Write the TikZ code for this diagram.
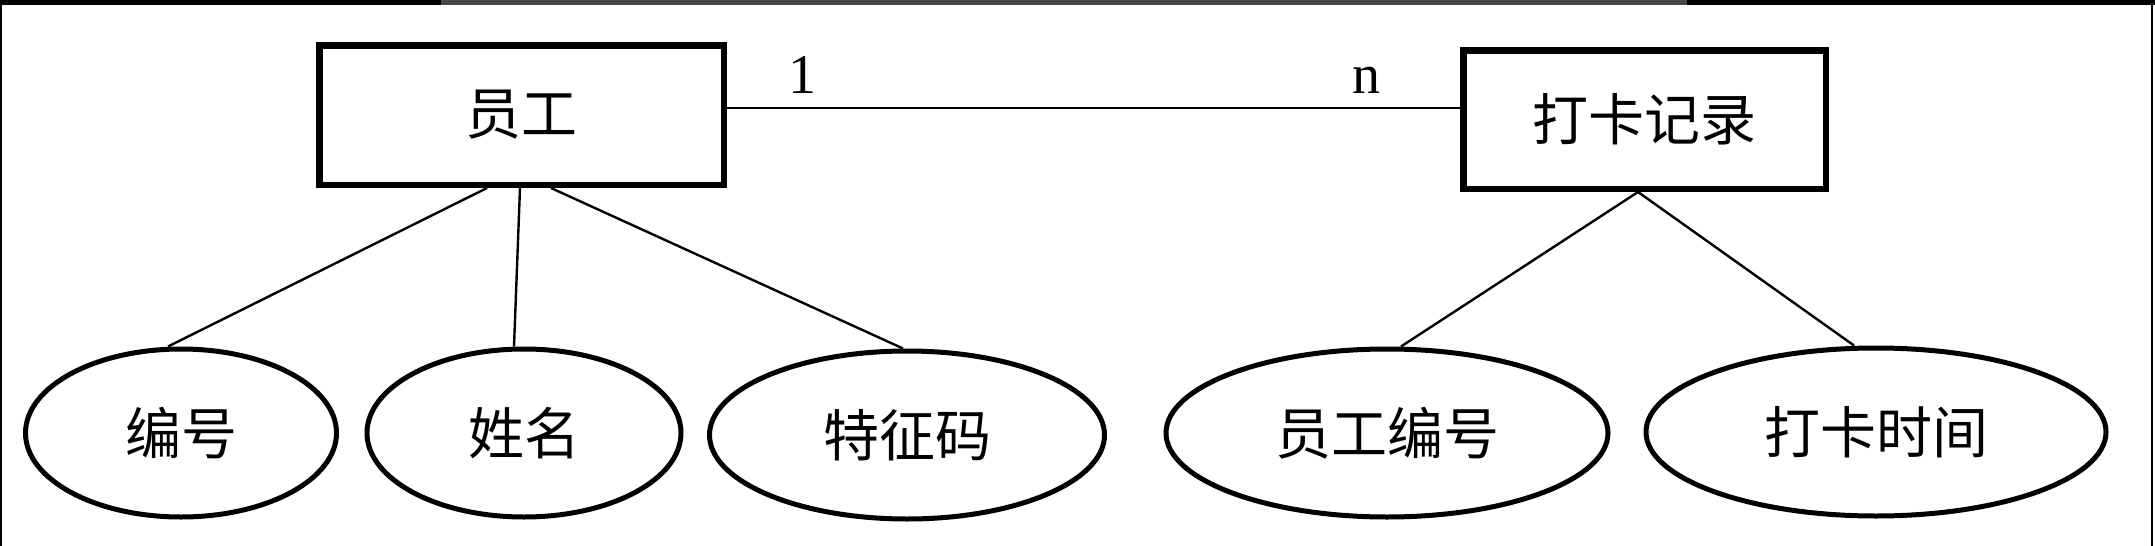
\documentclass[tikz,border=0pt]{standalone}
\usepackage{fontspec}
\setmainfont{Liberation Serif}
\newfontfamily\cjk{Noto Sans CJK SC}
\usetikzlibrary{shapes.geometric,calc}
\begin{document}
\begin{tikzpicture}[x=1pt,y=-1pt,
  entity/.style={draw,line width=6.5pt,rectangle,inner sep=0pt,
    font=\cjk\fontsize{56}{60}\selectfont},
  attr/.style={draw,line width=5pt,ellipse,inner sep=0pt,minimum height=168pt,
    font=\cjk\fontsize{56}{60}\selectfont},
  link/.style={line width=2.4pt},
  card/.style={anchor=base,inner sep=0pt,font=\fontsize{56}{60}\selectfont},
  frame/.style={line width=2.5pt}]
\useasboundingbox (0,0) rectangle (2155,546);
\fill[white] (0,0) rectangle (2155,546);
% screenshot frame
\fill[black] (0,0) rectangle (2155,5);
\fill[black!72] (441,0) rectangle (1687,4.5);
\draw[frame] (1.2,0) -- (1.2,546);
\draw[frame] (2152,0) -- (2152,546);

% entities
\node[entity,minimum width=404.5pt,minimum height=139.5pt] (emp) at (521.5,115) {员工};
\node[entity,minimum width=362.5pt,minimum height=138.5pt] (rec) at (1644.5,119.5) {打卡记录};

% attributes
\node[attr,minimum width=311pt] (e1) at (181,433) {编号};
\node[attr,minimum width=314pt] (e2) at (524,433) {姓名};
\node[attr,minimum width=395pt] (e3) at (907,435) {特征码};
\node[attr,minimum width=442pt] (e4) at (1387,433) {员工编号};
\node[attr,minimum width=460pt] (e5) at (1876,432) {打卡时间};

% relationship line
\coordinate (hy) at (0,108);
\draw[link] (emp.east |- hy) -- (rec.west |- hy);
\node[card] (one) at (802,93) {1};
\node[card] (many) at (1366,93) {n};

% attribute links
\draw[link] ([xshift=-34.5pt]emp.south) -- ([xshift=-13pt]e1.north);
\draw[link] ([xshift=-1.5pt]emp.south) -- ([xshift=-10pt]e2.north);
\draw[link] ([xshift=29.5pt]emp.south) -- ([xshift=-4pt]e3.north);
\draw[link] ([xshift=-6.5pt]rec.south) -- ([xshift=14pt]e4.north);
\draw[link] ([xshift=-6.5pt]rec.south) -- ([xshift=-22pt]e5.north);
\end{tikzpicture}
\end{document}
